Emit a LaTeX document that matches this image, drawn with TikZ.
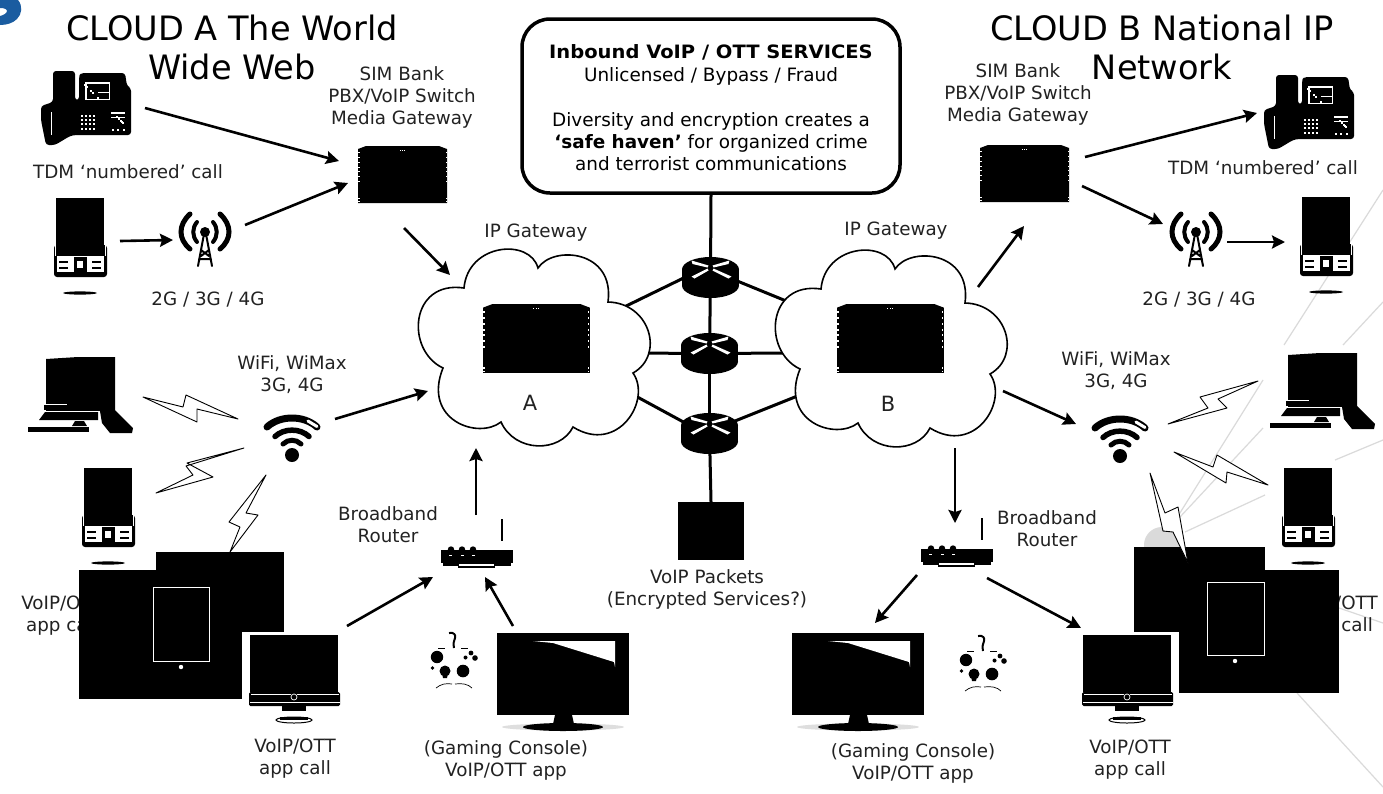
\documentclass[tikz,border=0pt]{standalone}
\usepackage{fontspec}
\usepackage{graphicx}
\setmainfont{DejaVu Sans}
\usetikzlibrary{arrows.meta}
\definecolor{bluemark}{HTML}{1A5CA0}
\definecolor{faint}{HTML}{DADADA}
\definecolor{inktext}{HTML}{222222}
\tikzset{
  x=1pt,y=-1pt,
  lbl/.style={font=\fontsize{18.3}{22}\selectfont,align=center,inner sep=0pt,text=inktext},
  head/.style={font=\fontsize{33.6}{39}\selectfont,align=center,inner sep=0pt,text=black},
  flow/.style={line width=2.6pt,-{Stealth[length=13pt,width=13pt,inset=2pt]}},
  wire/.style={line width=3pt},
  bolt/.style={draw=black,fill=white,line width=0.9pt,line join=round},
  cloudshape/.style={draw=black,fill=white,line width=1.6pt},
  deskphone/.pic={
    \begin{scope}[shift={(-41,-71)}]
    \fill[rounded corners=3pt] (53,71) -- (75,71) -- (75,100) -- (79,100) -- (79,76) -- (81,73) -- (125,73) -- (127,86) -- (131,88) -- (131,135) -- (75,135) -- (70,136) -- (55,145) -- (46,145) -- (41,120) -- (41,106) -- (53,102) -- cycle;
    \fill[white] (51,112) rectangle (52.2,135);
    \fill[white] (85,82) rectangle (110,100);
    \fill (86.5,83.5) rectangle (108.5,98.5);
    \fill[white] (98,92) rectangle (109,93.2);
    \foreach \a in {81,85,89,93} \foreach \b in {115,119,123,128} \fill[white] (\a,\b) rectangle +(2,2);
    \fill[white] (111,112) rectangle (125,113.5);
    \fill[white] (111,116.5) rectangle (125,118);
    \foreach \a in {112,117,123} \fill[white] (\a,129) rectangle +(1.5,1.5);
    \foreach \a/\b in {120,84,122,90,118,92,121,97,116,86} \fill[white] (\a,\b) rectangle +(2,2);
    \end{scope}},
  slidephone/.pic={
    \begin{scope}[shift={(-53,-198)}]
    \fill (56,198) rectangle (104,255);
    \fill[rounded corners=3pt] (54,245) rectangle (107,277);
    \fill (56,245) rectangle (105,255);
    \fill[white] (54.6,244) rectangle (55.6,256);
    \fill[white] (105.2,245) rectangle (106.2,256);
    \fill[white] (57,256) rectangle (104,272);
    \fill (74,257) rectangle (87,272);
    \fill[white] (77,261) rectangle (83,268);
    \fill (59,261) rectangle (68,263);
    \fill (59,267) rectangle (68,269);
    \fill (92,261) rectangle (101,263);
    \fill (92,267) rectangle (101,269);
    \fill (80,293) ellipse [x radius=17,y radius=1.6];
    \end{scope}},
  mast/.pic={
    \begin{scope}[line cap=round]
    \draw[line width=5pt] (-15,-18) .. controls (-27,-7) and (-27,7) .. (-15,17);
    \draw[line width=5pt] (15,-18) .. controls (27,-7) and (27,7) .. (15,17);
    \draw[line width=4pt] (-8,-10) .. controls (-13,-4) and (-13,4) .. (-8,10);
    \draw[line width=4pt] (8,-10) .. controls (13,-4) and (13,4) .. (8,10);
    \fill (0,0) circle (5);
    \draw[line width=2pt] (-1,2) -- (-7,34) (1,2) -- (7,34) (-4,18) -- (4,24) (4,18) -- (-4,24) (-6,27) -- (6,27);
    \end{scope}},
  gatebox/.pic={
    \fill (0,57) -- (0,3) -- (8,0) -- (81,0) -- (89,3) -- (89,57) -- cycle;
    \foreach \b in {6,11,16,21,25,30,35,52,55} {\fill[white] (0.3,\b) rectangle +(1.2,1.4); \fill[white] (87.5,\b) rectangle +(1.2,1.4);}
    \foreach \a in {42,44,46} \fill[white] (\a,3.5) rectangle +(0.8,0.8);},
  corerouter/.pic={
    \fill (0,-8) ellipse [x radius=28.5,y radius=12.5];
    \fill (0,8) ellipse [x radius=28.5,y radius=12.5];
    \fill (-28.5,-8) rectangle (28.5,8);
    \fill[white] (-19,-17) -- (-2,-12) -- (-3,-10) -- (-18,-13.5) -- cycle;
    \fill[white] (19,-17) -- (2,-12) -- (3,-10) -- (18,-13.5) -- cycle;
    \fill[white] (-19,-1) -- (-3,-9) -- (-2,-7) -- (-16,1) -- cycle;
    \fill[white] (21,-1) -- (3,-9) -- (2,-7) -- (18,1) -- cycle;},
  notebook/.pic={
    \begin{scope}[shift={(-28,-357)}]
    \fill (46,359) -- (78,357) -- (115,357) -- (115,410) -- (133,428) -- (132,433) -- (110,433) -- (102,423) -- (100,411) -- (46,411) -- cycle;
    \fill[white] (45,404) rectangle (67,404.8);
    \fill[white] (44,410.5) rectangle (100,411.5);
    \fill (39,420) -- (45,412) -- (98,412) -- (98,420) -- cycle;
    \fill (72,426) -- (75,421) -- (84,421) -- (87,426) -- cycle;
    \fill (28,427) rectangle (89,432);
    \fill (44,405) rectangle (96,410);
    \end{scope}},
  wifimark/.pic={
    \begin{scope}[line cap=round]
    \draw[line width=7pt] (-25,-28) .. controls (-12,-40) and (12,-40) .. (25,-28);
    \draw[line width=3pt,white] (16,-34) -- (25,-28.5);
    \draw[line width=5.5pt] (-17,-18.5) .. controls (-8,-27) and (8,-27) .. (17,-18.5);
    \draw[line width=5pt] (-9,-11) .. controls (-4,-16) and (4,-16) .. (9,-11);
    \fill (0,0) circle (7);
    \end{scope}},
  screenset/.pic={
    \begin{scope}[shift={(-250,-635)}]
    \fill (250,635) rectangle (338,692);
    \fill[rounded corners=1.5pt] (249,692) rectangle (340,706);
    \fill[white] (250.5,693.5) rectangle (338.5,695);
    \fill[white] (250,702) rectangle (340,703);
    \fill (294,697) circle (4);
    \draw[white,line width=0.7pt] (294,697) circle (3);
    \fill (282,706) rectangle (306,711);
    \draw[line width=1pt,fill=white] (294,720) ellipse [x radius=18,y radius=3];
    \fill (280,717) rectangle (308,720);
    \end{scope}},
  bigtv/.pic={
    \begin{scope}[shift={(-497,-633)}]
    \fill[black!13] (563,727) ellipse [x radius=61,y radius=3.5];
    \fill (497,633) rectangle (629,715);
    \fill[white] (533,641) -- (615,641) -- (615,667) -- (614,662) -- (553,643) -- cycle;
    \fill (555,715) -- (572,715) -- (574,724) -- (553,724) -- cycle;
    \fill (563,727) ellipse [x radius=40,y radius=4];
    \end{scope}},
  homerouter/.pic={
    \begin{scope}[shift={(-441,-550)}]
    \fill (441,550) rectangle (513,563);
    \fill (443,563) rectangle (511,566);
    \foreach \a in {451,462,473} \fill (\a,549.5) circle (3.2);
    \foreach \a in {449,461,472} \fill[white] (\a,555) rectangle +(3,1);
    \fill (458,563) rectangle (495,567.5);
    \fill[white] (459,564) rectangle (494,565.8);
    \fill (501,519) rectangle (503,541);
    \end{scope}},
  gamepad/.pic={
    \begin{scope}[shift={(-437,-657)}]
    \fill (437,657) circle (6.2);
    \fill (463,671) circle (6.3);
    \fill (445,671) circle (5.5);
    \fill (442,673) -- (448,673) -- (447,678) -- (443,678) -- cycle;
    \fill (471,653) circle (2.4);
    \fill (465.5,657.5) circle (2);
    \fill (475,658) circle (2.8);
    \fill (432.5,668) circle (1.8);
    \draw[line width=2pt] (449,633) .. controls (454,632) and (456,635) .. (455,638) .. controls (454,641) and (453,643) .. (454,648);
    \draw[line width=0.7pt] (438,648) -- (445,648) (461,648) -- (468,648);
    \draw[line width=0.7pt] (436,688) .. controls (441,684) and (446,683) .. (452,684);
    \draw[line width=0.7pt] (455,684) .. controls (462,683) and (468,684) .. (472,688);
    \end{scope}},
}
\begin{document}
\begin{tikzpicture}
\useasboundingbox (0,0) rectangle (1383,793);
\fill[white] (0,0) rectangle (1383,793);

% faint background rays
\begin{scope}[faint,line width=1.2pt]
\draw (1178,516) -- (1263,380) (1284,345) -- (1383,190);
\draw (1180,517) -- (1263,428) (1343,345) -- (1383,302);
\draw (1185,532) -- (1265,495) (1335,460) -- (1383,440);
\draw (1297,693) -- (1383,787);
\draw (1339,608) -- (1383,623);
\fill (1162,545) circle (18);
\end{scope}

% corner mark
\fill[bluemark] (0,0) -- (18,0) .. controls (23,6) and (22,14) .. (17,19) .. controls (13,23) and (7,25) .. (0,25) -- (0,16) .. controls (4,15) and (7,13) .. (7,11) .. controls (7,9) and (4,8) .. (0,8) -- cycle;

% titles
\node[head] (titleA) at (232,47.5) {CLOUD A The World\\Wide Web};
\node[head] (titleB) at (1162,47.5) {CLOUD B National IP\\Network};

% desk phones, mobiles, masts
\pic at (41,71) {deskphone};
\pic at (1264,75) {deskphone};
\pic at (53,198) {slidephone};
\pic at (81,468) {slidephone};
\pic at (1299,197) {slidephone};
\pic at (1281,468) {slidephone};
\pic at (205,232) {mast};
\pic at (1196,232) {mast};
\pic at (358,146) {gatebox};
\pic at (980,145) {gatebox};

% labels
\node[lbl] (simA) at (402,97) {SIM Bank\\PBX/VoIP Switch\\Media Gateway};
\node[lbl] (simB) at (1018,94.5) {SIM Bank\\PBX/VoIP Switch\\Media Gateway};
\node[lbl] (tdmA) at (128,172) {TDM ‘numbered’ call};
\node[lbl] (tdmB) at (1263,168) {TDM ‘numbered’ call};
\node[lbl] (netA) at (208,300) {2G / 3G / 4G};
\node[lbl] (netB) at (1199,300) {2G / 3G / 4G};
\node[lbl] (wifiA) at (292,375) {WiFi, WiMax\\3G, 4G};
\node[lbl] (wifiB) at (1116,371) {WiFi, WiMax\\3G, 4G};
\node[lbl] (ipA) at (536,233) {IP Gateway};
\node[lbl] (ipB) at (896,231) {IP Gateway};
\node[lbl] (brA) at (388,525) {Broadband\\Router};
\node[lbl] (brB) at (1047,529) {Broadband\\Router};
\node[lbl] (pkts) at (707,589) {VoIP Packets\\(Encrypted Services?)};
\node[lbl] (appA) at (295,759) {VoIP/OTT\\app call};
\node[lbl] (appB) at (1130,760) {VoIP/OTT\\app call};
\node[lbl] (gameA) at (506,760) {(Gaming Console)\\VoIP/OTT app};
\node[lbl] (gameB) at (913,763) {(Gaming Console)\\VoIP/OTT app};
\node[lbl] (tabA) at (62,616) {VoIP/OTT\\app call};
\node[lbl] (tabB) at (1337,616) {VoIP/OTT\\app call};

% core network wires (run under the clouds and the routers)
\node[draw=black,line width=3.5pt,fill=white,rounded corners=28pt,minimum width=378pt,minimum height=174pt,inner sep=0pt] (svc) at (711,106) {};
\node[inner sep=0pt,align=center,font=\fontsize{18.4}{22.4}\selectfont,text=black] (svctext) at (711,108) {\scalebox{1.06}[1]{\bfseries Inbound VoIP / OTT SERVICES}\\Unlicensed / Bypass / Fraud\\[22.4pt]Diversity and encryption creates a\\{\bfseries ‘safe haven’} for organized crime\\and terrorist communications};
\node[fill=black,minimum width=66pt,minimum height=58pt,inner sep=0pt] (pktbox) at (711,531) {};
\coordinate (r1) at (710.5,277.5);
\coordinate (r2) at (709.5,353.5);
\coordinate (r3) at (709.5,433.5);
\coordinate (r1w) at (700,270);
\coordinate (r1e) at (725,276);
\coordinate (r3w) at (700,431);
\coordinate (r3e) at (720,427);
\coordinate (cAa) at (620,309);
\coordinate (cAb) at (630,353);
\coordinate (cAc) at (630,393);
\coordinate (cBa) at (796,305);
\coordinate (cBb) at (790,353);
\coordinate (cBc) at (805,393);
\draw[wire] (svc.south) -- (r1);
\draw[wire] (r1) -- (r2);
\draw[wire] (r2) -- (r3);
\draw[wire] (r3) -- (pktbox.north);
\draw[wire] (cAa) -- (r1w);
\draw[wire] (r1e) -- (cBa);
\draw[wire] (cAb) -- (r2);
\draw[wire] (r2) -- (cBb);
\draw[wire] (cAc) -- (r3w);
\draw[wire] (r3e) -- (cBc);
\pic at (r1) {corerouter};
\pic at (r2) {corerouter};
\pic at (r3) {corerouter};

% clouds
\path[cloudshape] (464,288) .. controls (468,243) and (530,238) .. (538,268)
  .. controls (553,245) and (615,250) .. (608,302)
  .. controls (650,303) and (665,355) .. (633,373)
  .. controls (652,400) and (618,455) .. (573,427)
  .. controls (560,453) and (515,453) .. (501,422)
  .. controls (478,440) and (422,420) .. (443,368)
  .. controls (405,350) and (410,280) .. (464,288) -- cycle;
\path[cloudshape,shift={(357,1)}] (464,288) .. controls (468,243) and (530,238) .. (538,268)
  .. controls (553,245) and (615,250) .. (608,302)
  .. controls (650,303) and (665,355) .. (633,373)
  .. controls (652,400) and (618,455) .. (573,427)
  .. controls (560,453) and (515,453) .. (501,422)
  .. controls (478,440) and (422,420) .. (443,368)
  .. controls (405,350) and (410,280) .. (464,288) -- cycle;
\pic[xscale=1.2,yscale=1.21] at (483,304) {gatebox};
\pic[xscale=1.2,yscale=1.21] at (837,304) {gatebox};
\node[inner sep=0pt,font=\fontsize{21}{22}\selectfont,text=inktext] (labA) at (530,403) {A};
\node[inner sep=0pt,font=\fontsize{21}{22}\selectfont,text=inktext] (labB) at (888,404) {B};

% left-hand lower devices
\pic at (28,357) {notebook};
\pic at (1270,353) {notebook};
\pic at (292,455) {wifimark};
\pic at (1120,456) {wifimark};

% lightning
\path[bolt] (143,397) -- (183,407) -- (186,395) -- (238,419) -- (197,409) -- (197,422) -- cycle;
\path[bolt] (244,448) -- (187,463) -- (213,477) -- (156,493) -- (193,475) -- (186,466) -- cycle;
\path[bolt] (266,475) -- (246,513) -- (258,515) -- (230,552) -- (240,527) -- (229,522) -- cycle;
\path[bolt] (1258,381) -- (1218,399) -- (1227,408) -- (1168,424) -- (1208,408) -- (1200,397) -- cycle;
\path[bolt] (1174,452) -- (1213,467) -- (1217,455) -- (1268,485) -- (1227,472) -- (1226,483) -- cycle;

% tablets
\fill (79,570) rectangle (242,699);
\fill (156,552) rectangle (284,632);
\draw[white,line width=0.8pt] (153,587) rectangle (209,661);
\fill[white] (181,667) circle (2.2);
\fill (1179,570) rectangle (1339,693);
\fill (1134,547) rectangle (1265,632);
\draw[white,line width=0.8pt] (1207,582) rectangle (1264,655);
\fill[white] (1235,661) circle (2.2);
\path[bolt] (1150,473) -- (1165,513) -- (1178,507) -- (1188,563) -- (1173,532) -- (1163,531) -- cycle;

% desktops, TVs, routers, pads
\fill[white] (242,632) rectangle (300,720);
\pic at (250,635) {screenset};
\pic at (1083,635) {screenset};
\pic at (497,633) {bigtv};
\pic at (792,633) {bigtv};
\pic at (441,550) {homerouter};
\pic at (921,549) {homerouter};
\pic at (437,657) {gamepad};
\pic at (966,660) {gamepad};

% arrow ends
\coordinate (a1) at (145,108); \coordinate (a2) at (339,161);
\coordinate (a3) at (245,225); \coordinate (a4) at (348,183);
\coordinate (a5) at (120,241); \coordinate (a6) at (173,240);
\coordinate (a7) at (404,228); \coordinate (a8) at (450,275);
\coordinate (a9) at (335,419); \coordinate (a10) at (428,391);
\coordinate (a11) at (476,515); \coordinate (a12) at (476,448);
\coordinate (a13) at (347,626); \coordinate (a14) at (433,577);
\coordinate (a15) at (513,626); \coordinate (a16) at (485,577);
\coordinate (b1) at (978,287); \coordinate (b2) at (1024,226);
\coordinate (b3) at (1085,157); \coordinate (b4) at (1257,113);
\coordinate (b5) at (1082,186); \coordinate (b6) at (1163,224);
\coordinate (b7) at (1227,242); \coordinate (b8) at (1285,242);
\coordinate (b9) at (1003,391); \coordinate (b10) at (1076,424);
\coordinate (b11) at (955,448); \coordinate (b12) at (955,523);
\coordinate (b13) at (917,575); \coordinate (b14) at (875,623);
\coordinate (b15) at (987,578); \coordinate (b16) at (1081,628);
\draw[flow] (a1) -- (a2);
\draw[flow] (a3) -- (a4);
\draw[flow] (a5) -- (a6);
\draw[flow] (a7) -- (a8);
\draw[flow] (a9) -- (a10);
\draw[flow] (a11) -- (a12);
\draw[flow] (a13) -- (a14);
\draw[flow] (a15) -- (a16);
\draw[flow] (b1) -- (b2);
\draw[flow] (b3) -- (b4);
\draw[flow] (b5) -- (b6);
\draw[flow] (b7) -- (b8);
\draw[flow] (b9) -- (b10);
\draw[flow] (b11) -- (b12);
\draw[flow] (b13) -- (b14);
\draw[flow] (b15) -- (b16);
\end{tikzpicture}
\end{document}
